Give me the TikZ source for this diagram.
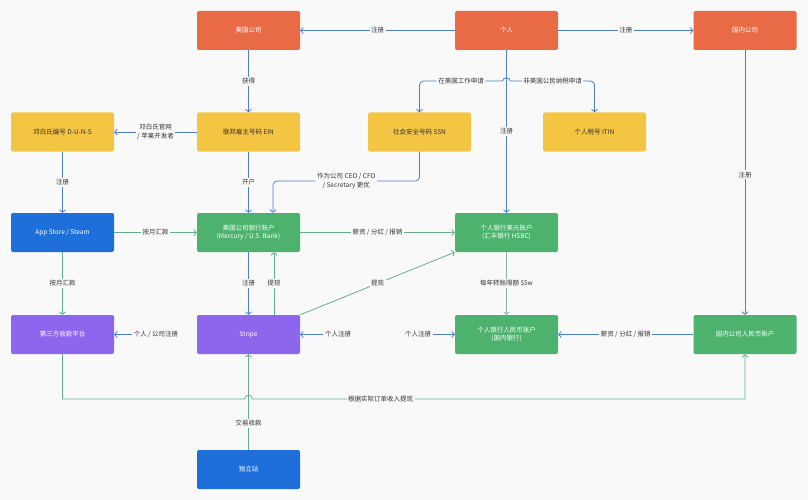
\documentclass[tikz,border=0pt]{standalone}
\usepackage{fontspec}
\newfontfamily\cjk{Noto Sans CJK SC}
\usetikzlibrary{arrows.meta,calc}
\definecolor{bgc}{HTML}{F9F9F9}
\definecolor{corange}{HTML}{E96B45}
\definecolor{cyellow}{HTML}{F4C443}
\definecolor{cblue}{HTML}{1F6FDB}
\definecolor{cgreen}{HTML}{4DB26E}
\definecolor{cpurple}{HTML}{8E66EE}
\definecolor{lblue}{HTML}{4F7FC9}
\definecolor{lgreen}{HTML}{62B08A}
\definecolor{lgray}{HTML}{8FAF9F}
\begin{document}
\begin{tikzpicture}[x=1pt,y=-1pt,
  font=\cjk\fontsize{6.5}{8.5}\selectfont,
  box/.style={rectangle, rounded corners=2pt, minimum width=103pt, minimum height=39pt, inner sep=1pt, align=center, text=white},
  org/.style={box, fill=corange},
  yel/.style={box, fill=cyellow, text=black!80},
  blu/.style={box, fill=cblue},
  grn/.style={box, fill=cgreen},
  pur/.style={box, fill=cpurple},
  lbl/.style={fill=bgc, inner sep=1.5pt, text=black!80, align=center},
  bl/.style={draw=lblue, line width=0.8pt, -{Straight Barb[length=2.5pt,width=6pt]}},
  gr/.style={draw=lgreen, line width=0.8pt, -{Straight Barb[length=2.5pt,width=6pt]}},
  gy/.style={draw=lgray, line width=0.8pt, -{Straight Barb[length=2.5pt,width=6pt]}},
]
\fill[bgc] (0,0) rectangle (808,500);
\useasboundingbox (0,0) rectangle (808,500);

% row 1
\node[org] (usco)   at (248.5,30.5) {美国公司};
\node[org] (person) at (506.5,30.5) {个人};
\node[org] (cnco)   at (745,30.5)   {国内公司};
% row 2
\node[yel] (duns) at (62.5,132)  {邓白氏编号 D-U-N-S};
\node[yel] (ein)  at (248.5,132) {联邦雇主号码 EIN};
\node[yel] (ssn)  at (419.5,132) {社会安全号码 SSN};
\node[yel] (itin) at (594.5,132) {个人税号 ITIN};
% row 3
\node[blu] (appst)  at (62.5,232.5)  {App Store / Steam};
\node[grn] (usbank) at (248.5,232.5) {美国公司银行账户\\(Mercury / U.S. Bank)};
\node[grn] (usd)    at (506.5,232.5) {个人银行美元账户\\(汇丰银行 HSBC)};
% row 4
\node[pur] (third)  at (62.5,334.5)  {第三方收款平台};
\node[pur] (stripe) at (248.5,334.5) {Stripe};
\node[grn] (rmb)    at (506.5,334.5) {个人银行人民币账户\\(国内银行)};
\node[grn] (cnrmb)  at (745,334.5)   {国内公司人民币账户};
% row 5
\node[blu] (indep) at (248.5,469.5) {独立站};

% top connectors
\draw[bl] (person.west) -- node[lbl] {注册} (usco.east);
\draw[bl] (person.east) -- node[lbl] {注册} (cnco.west);
\draw[bl] (usco.south) -- node[lbl] {获得} (ein.north);
\draw[bl] (ein.west) -- node[lbl] {邓白氏官网\\/ 苹果开发者} (duns.east);

% person branches
\coordinate (hopL) at (502.5,81);
\coordinate (hopR) at (510.5,81);
\draw[bl] (person.south) -- node[lbl] {注册} (usd.north);
\draw[bl, rounded corners=4pt] (hopL) -- node[lbl, pos=0.5] {在美国工作申请} (419.5,81) -- (ssn.north);
\draw[bl, rounded corners=4pt] (hopR) -- node[lbl, pos=0.5] {非美国公民纳税申请} (594.5,81) -- (itin.north);
\draw[draw=lblue, line width=0.8pt] (hopL) .. controls (502.5,77) and (510.5,77) .. (hopR);

\draw[bl] (cnco.south) -- node[lbl, pos=0.47] {注册} (cnrmb.north);
\draw[bl] (duns.south) -- node[lbl] {注册} (appst.north);
\draw[bl] (ein.south) -- node[lbl] {开户} (usbank.north);
\draw[bl, rounded corners=4pt] (ssn.south) -- (419.5,181) -- node[lbl] {作为公司 CEO / CFO\\/ Secretary 更优} (273,181) -- ([xshift=24.5pt]usbank.north);

% row 3 connectors
\draw[gr] (appst.east) -- node[lbl] {按月汇款} (usbank.west);
\draw[gr] (usbank.east) -- node[lbl] {薪资 / 分红 / 报销} (usd.west);
\draw[gr] (appst.south) -- node[lbl] {按月汇款} (third.north);
\draw[bl] (usbank.south) -- node[lbl] {注册} (stripe.north);
\draw[gr] ([xshift=25.5pt]stripe.north) -- node[lbl] {提现} ([xshift=25.5pt]usbank.south);
\draw[gr] (stripe.north east) -- node[lbl] {提现} (usd.south west);
\draw[gy] (usd.south) -- node[lbl] {每年转账限额 \$5w} (rmb.north);

% row 4 connectors
\node[lbl] (t1) at (156,334.5) {个人 / 公司注册};
\node[lbl] (t2) at (338,334.5) {个人注册};
\node[lbl] (t3) at (418,334.5) {个人注册};
\draw[bl] (t1) -- (third.east);
\draw[bl] (t2) -- (stripe.east);
\draw[bl] (t3) -- (rmb.west);
\draw[bl] (cnrmb.west) -- node[lbl] {薪资 / 分红 / 报销} (rmb.east);

% bottom connectors
\draw[gr] (indep.north) -- node[lbl, pos=0.28] {交易收款} (stripe.south);
\draw[gr] (third.south) -- (62.5,399) -- (244.5,399) .. controls (244.5,394) and (252.5,394) .. (252.5,399)
  -- node[lbl, pos=0.26] {根据实际订单收入提现} (745,399) -- (cnrmb.south);
\end{tikzpicture}
\end{document}
